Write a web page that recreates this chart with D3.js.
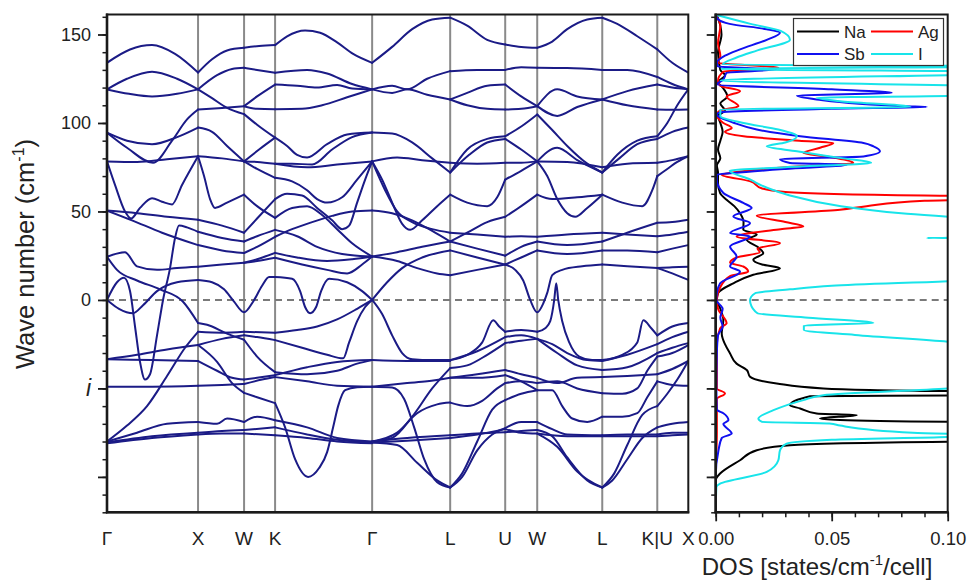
<!DOCTYPE html>
<html>
<head>
<meta charset="utf-8">
<script src="https://cdn.jsdelivr.net/npm/d3@7"></script>
<style>
  html, body { margin: 0; padding: 0; background: #fff; }
  svg { display: block; font-family: "Liberation Sans", Arial, sans-serif; }
</style>
</head>
<body>
<svg id="chart" width="970" height="580"></svg>
<script>
// ---- high-symmetry path ----
const kLabels = ["Γ", "X", "W", "K", "Γ", "L", "U", "W", "L", "K|U", "X"];
const kTicks  = [0, 0.91, 1.37, 1.68, 2.65, 3.43, 3.98, 4.30, 4.95, 5.50, 5.81];

// ---- frequency axis ----
const freqMajor = [150, 100, 50, 0, -50, -100];
const freqMajorText = ["150", "100", "50", "0", "i", ""];
const freqMinor = d3.range(-120, 161, 10);

// ---- DOS axis ----
const dosMajor = [0, 0.05, 0.10];
const dosMajorText = ["0.00", "0.05", "0.10"];
const dosMinor = d3.range(0, 0.1001, 0.01);

// ---- phonon branches, [k, frequency (cm^-1)], one array per path segment ----
const segGX = [
  [[0,134],[0.23,141.5],[0.45,144],[0.68,139],[0.91,128.5]],
  [[0,119],[0.2,125],[0.45,129],[0.7,125],[0.91,119]],
  [[0,119],[0.22,116.5],[0.45,115],[0.7,116.5],[0.91,119]],
  [[0,94.5],[0.2,90],[0.45,88],[0.7,92],[0.91,97.4]],
  [[0,94.5],[0.2,86],[0.46,77.5],[0.65,90],[0.8,102],[0.91,107.6]],
  [[0,78.3],[0.3,78],[0.6,79.5],[0.91,81.2]],
  [[0,78.3],[0.08,65],[0.18,50],[0.24,46],[0.33,52],[0.45,57.5],[0.55,55.5],[0.65,54],[0.75,65],[0.91,81.2]],
  [[0,50.5],[0.3,49],[0.6,47],[0.91,45.3]],
  [[0,50.5],[0.25,45],[0.55,38],[0.91,31]],
  [[0,24.4],[0.18,27],[0.3,19],[0.5,17],[0.7,18],[0.91,18.7]],
  [[0,24.4],[0.1,17],[0.3,11],[0.53,6],[0.76,-1],[0.91,-13]],
  [[0,0],[0.1,10],[0.17,12.5],[0.23,5],[0.28,-15],[0.33,-35],[0.38,-45],[0.43,-42],[0.5,-20],[0.56,0],[0.63,18],[0.68,35],[0.72,42],[0.8,41],[0.91,38.5]],
  [[0,0],[0.12,-5],[0.26,-7.5],[0.36,-3],[0.5,5],[0.7,10],[0.91,11.3]],
  [[0,-33.5],[0.3,-31],[0.6,-28],[0.91,-25.5]],
  [[0,-33.5],[0.45,-34],[0.91,-34.5]],
  [[0,-49],[0.45,-49],[0.91,-48.5]],
  [[0,-80],[0.2,-71],[0.4,-60],[0.6,-43],[0.78,-27],[0.91,-18]],
  [[0,-80],[0.3,-75],[0.6,-70],[0.91,-69]],
  [[0,-80.5],[0.45,-77],[0.91,-75]],
  [[0,-81],[0.45,-78],[0.91,-76]]
];

const segXW = [
  [[0.91,128.5],[1.05,136],[1.2,141],[1.37,142.5]],
  [[0.91,119],[1.1,127],[1.25,130.5],[1.37,131.2]],
  [[0.91,119],[1.05,114],[1.2,108.5],[1.37,105]],
  [[0.91,107.6],[1.15,108.5],[1.37,109.5]],
  [[0.91,97.4],[1.05,95],[1.2,87],[1.37,78.3]],
  [[0.91,81.2],[1.15,80],[1.37,78.3]],
  [[0.91,81.2],[0.97,70],[1.03,57],[1.08,52],[1.2,55],[1.37,59.5]],
  [[0.91,45.3],[1.15,42],[1.37,38]],
  [[0.91,38.5],[1.15,35],[1.37,33]],
  [[0.91,31],[1.15,28],[1.37,26.5]],
  [[0.91,18.7],[1.15,20],[1.37,21]],
  [[0.91,11.3],[1.05,10],[1.17,6],[1.27,-1],[1.37,-7],[1.46,-1],[1.55,8],[1.62,13],[1.68,13]],
  [[0.91,-13],[1.0,-14],[1.2,-19],[1.37,-22.5]],
  [[0.91,-18],[1.15,-18.5],[1.37,-18]],
  [[0.91,-25.5],[1.15,-22],[1.37,-20]],
  [[0.91,-25.5],[1.1,-35],[1.25,-47],[1.37,-52.5]],
  [[0.91,-34.5],[1.1,-40],[1.25,-44],[1.37,-45]],
  [[0.91,-48.5],[1.15,-48],[1.37,-47.5]],
  [[0.91,-69],[1.1,-70],[1.2,-67],[1.37,-69]],
  [[0.91,-75],[1.15,-74],[1.37,-73.5]],
  [[0.91,-76],[1.15,-75.5],[1.37,-75.5]]
];

const segWK = [
  [[1.37,142.5],[1.52,143.5],[1.68,144]],
  [[1.37,131.2],[1.5,130],[1.68,128.4]],
  [[1.37,109.5],[1.5,115],[1.68,121.7]],
  [[1.37,105],[1.5,99],[1.68,91.7]],
  [[1.37,109.5],[1.5,108],[1.68,107.8]],
  [[1.37,78.3],[1.5,78],[1.68,77]],
  [[1.37,78.3],[1.52,85],[1.68,91.7]],
  [[1.37,78.3],[1.5,74],[1.68,69]],
  [[1.37,59.5],[1.5,53],[1.68,46.4]],
  [[1.37,38],[1.5,46],[1.68,57]],
  [[1.37,33],[1.5,36],[1.68,39.6]],
  [[1.37,26.5],[1.5,30],[1.68,35.7]],
  [[1.37,21],[1.5,23],[1.68,26.6]],
  [[1.37,21],[1.5,22],[1.68,23.8]],
  [[1.37,-18],[1.68,-18.5]],
  [[1.37,-20],[1.5,-21],[1.68,-22.7]],
  [[1.37,-22.5],[1.5,-32],[1.68,-40.8]],
  [[1.37,-45],[1.5,-44],[1.68,-42.5]],
  [[1.37,-47.5],[1.55,-45],[1.68,-43.6]],
  [[1.37,-52.5],[1.5,-55],[1.68,-58.3]],
  [[1.37,-69],[1.5,-66],[1.68,-68]],
  [[1.37,-73.5],[1.68,-72]],
  [[1.37,-75.5],[1.68,-76.5]]
];

const segKG = [
  [[1.68,144],[1.8,149],[1.98,152.3],[2.13,151],[2.3,145.5],[2.46,139],[2.65,134]],
  [[1.68,128.4],[2.0,130],[2.2,128],[2.45,122],[2.65,119]],
  [[1.68,121.7],[1.9,121],[2.1,120],[2.3,121.5],[2.45,119.5],[2.65,119]],
  [[1.68,107.8],[1.95,108],[2.15,110],[2.4,114.5],[2.65,119]],
  [[1.68,91.7],[1.8,87],[1.9,82],[2.0,80.5],[2.2,88],[2.4,93.5],[2.65,94.6]],
  [[1.68,77],[1.85,77],[2.05,76.5],[2.25,85],[2.45,92],[2.65,94.6]],
  [[1.68,77],[2.0,75],[2.3,76.5],[2.65,78.3]],
  [[1.68,69],[1.85,67],[2.0,62],[2.1,57],[2.2,55],[2.35,58],[2.5,68],[2.65,78.3]],
  [[1.68,57],[1.8,60],[1.95,59],[2.1,52],[2.25,45],[2.35,40],[2.42,42],[2.5,55],[2.58,68],[2.65,78.3]],
  [[1.68,35.7],[1.85,40],[2.05,44],[2.25,47.5],[2.45,50],[2.65,50.6]],
  [[1.68,46.4],[1.85,52],[2.0,53],[2.15,48],[2.3,40],[2.45,32],[2.65,24.5]],
  [[1.68,39.6],[1.9,36],[2.1,30],[2.35,26],[2.65,24.5]],
  [[1.68,26.6],[1.9,24],[2.2,22],[2.45,23],[2.65,24.5]],
  [[1.68,23.8],[1.95,20],[2.2,17],[2.4,15],[2.55,20],[2.65,24.5]],
  [[1.68,13],[1.85,12],[1.93,5],[1.98,-4],[2.03,-7.5],[2.09,-4],[2.14,5],[2.22,12],[2.4,10],[2.55,5],[2.65,0]],
  [[1.68,-18.5],[1.9,-17],[2.1,-15],[2.3,-11],[2.5,-5],[2.65,0]],
  [[1.68,-22.7],[1.95,-27],[2.2,-31],[2.36,-33],[2.42,-24],[2.5,-12],[2.58,-4],[2.65,0]],
  [[1.68,-40.8],[2.0,-42],[2.3,-40],[2.5,-36],[2.65,-34]],
  [[1.68,-42.5],[2.0,-38],[2.3,-35],[2.65,-34]],
  [[1.68,-43.6],[2.0,-46],[2.3,-48.5],[2.65,-49]],
  [[1.68,-58.3],[1.78,-72],[1.88,-90],[2.01,-100],[2.12,-95],[2.2,-86],[2.26,-72],[2.31,-60],[2.38,-51],[2.5,-49.3],[2.65,-49]],
  [[1.68,-68],[2.0,-72],[2.3,-78],[2.65,-80]],
  [[1.68,-72],[2.0,-76],[2.3,-79],[2.65,-80.5]],
  [[1.68,-76.5],[2.0,-78],[2.3,-80],[2.65,-81]]
];

const segGL = [
  [[2.65,134],[2.85,143],[3.05,153],[3.25,158.5],[3.43,159.5]],
  [[2.65,119],[2.85,121],[3.0,119],[3.2,125],[3.43,129.3]],
  [[2.65,119],[2.85,117],[3.0,119],[3.2,116],[3.43,113.3]],
  [[2.65,94.6],[2.85,94],[3.05,89],[3.25,80],[3.43,72]],
  [[2.65,78.3],[2.9,80.5],[3.15,79],[3.43,77.5]],
  [[2.65,78.3],[2.75,68],[2.85,55],[2.95,43],[3.03,39.6],[3.15,45],[3.3,53],[3.43,59.5]],
  [[2.65,78.3],[2.78,62],[2.9,50],[3.05,44],[3.25,40],[3.43,38]],
  [[2.65,50.6],[2.85,49],[3.05,45],[3.25,39],[3.43,33]],
  [[2.65,24.5],[2.9,27],[3.15,30],[3.43,33]],
  [[2.65,24.5],[2.9,22],[3.1,18],[3.3,15],[3.43,14]],
  [[2.65,0],[2.8,10],[2.95,18],[3.15,24],[3.43,28]],
  [[2.65,0],[2.75,-8],[2.85,-20],[2.95,-30],[3.05,-33.5],[3.25,-34],[3.43,-34]],
  [[2.65,-34],[3.0,-34.5],[3.43,-34.5]],
  [[2.65,-49],[2.85,-49.5],[2.97,-56],[3.07,-72],[3.17,-90],[3.3,-103],[3.43,-106]],
  [[2.65,-49],[3.0,-47],[3.2,-46],[3.43,-44]],
  [[2.65,-80],[2.85,-78],[3.05,-66],[3.25,-50],[3.43,-38.5]],
  [[2.65,-80],[2.9,-75],[3.1,-64],[3.3,-59],[3.43,-58]],
  [[2.65,-80],[3.0,-78],[3.43,-76.5]],
  [[2.65,-80.5],[3.0,-79.5],[3.43,-78]],
  [[2.65,-80.5],[2.9,-82],[3.1,-92],[3.3,-102],[3.43,-106]]
];

const segLU = [
  [[3.43,159.5],[3.6,155],[3.8,147],[3.98,144.4]],
  [[3.43,129.3],[3.7,130],[3.98,130]],
  [[3.43,113.3],[3.6,117],[3.8,121],[3.98,121.7]],
  [[3.43,113.3],[3.6,110],[3.8,108],[3.98,107.6]],
  [[3.43,72],[3.6,85],[3.8,91],[3.98,92.5]],
  [[3.43,72],[3.62,82],[3.8,89],[3.98,91]],
  [[3.43,77.5],[3.7,77],[3.98,77.5]],
  [[3.43,59.5],[3.6,55],[3.8,53],[3.9,58],[3.98,68]],
  [[3.43,38],[3.7,37],[3.98,35.7]],
  [[3.43,33],[3.6,38],[3.8,44],[3.98,47]],
  [[3.43,33],[3.7,29],[3.98,25]],
  [[3.43,28],[3.7,24],[3.98,20]],
  [[3.43,14],[3.7,17],[3.98,20]],
  [[3.43,-34],[3.6,-31],[3.75,-24],[3.86,-11.5],[3.92,-15],[3.98,-18]],
  [[3.43,-34],[3.7,-29],[3.98,-21]],
  [[3.43,-38.5],[3.6,-37],[3.8,-31],[3.98,-24.4]],
  [[3.43,-44],[3.7,-42],[3.98,-39.6]],
  [[3.43,-44],[3.7,-44],[3.98,-42.5]],
  [[3.43,-58],[3.6,-60],[3.75,-57],[3.9,-50],[3.98,-47]],
  [[3.43,-76.5],[3.7,-75.5],[3.98,-74.8]],
  [[3.43,-78],[3.7,-76],[3.98,-73]],
  [[3.43,-106],[3.55,-100],[3.7,-85],[3.85,-76],[3.98,-72.5]],
  [[3.43,-106],[3.55,-98],[3.7,-80],[3.85,-62],[3.98,-56.6]]
];

const segUW = [
  [[3.98,144.4],[4.14,143],[4.3,142.5]],
  [[3.98,130],[4.14,131.5],[4.3,131.2]],
  [[3.98,121.7],[4.14,115],[4.3,109.5]],
  [[3.98,107.6],[4.14,108],[4.3,109.5]],
  [[3.98,92.5],[4.14,98],[4.3,104.8]],
  [[3.98,91],[4.14,85],[4.3,78.3]],
  [[3.98,77.5],[4.14,77.5],[4.3,78.3]],
  [[3.98,68],[4.14,73],[4.3,78.3]],
  [[3.98,47],[4.14,53],[4.3,59.5]],
  [[3.98,35.7],[4.14,36],[4.3,35.7]],
  [[3.98,25],[4.14,30],[4.3,33]],
  [[3.98,20],[4.14,24],[4.3,28]],
  [[3.98,20],[4.08,17],[4.16,11],[4.23,0],[4.3,-7],[4.36,-2],[4.4,4],[4.45,14],[4.55,17],[4.75,19],[4.95,20]],
  [[3.98,-18],[4.14,-17],[4.3,-18]],
  [[3.98,-21],[4.14,-20],[4.3,-22]],
  [[3.98,-24.4],[4.14,-23],[4.3,-22]],
  [[3.98,-39.6],[4.14,-42],[4.3,-44]],
  [[3.98,-42.5],[4.14,-46],[4.3,-51]],
  [[3.98,-47],[4.14,-46],[4.3,-47]],
  [[3.98,-56.6],[4.14,-53],[4.3,-51]],
  [[3.98,-72.5],[4.14,-69],[4.3,-69]],
  [[3.98,-74.8],[4.14,-74],[4.3,-73.5]],
  [[3.98,-73],[4.14,-75],[4.3,-75.5]]
];

const segWL = [
  [[4.3,142.5],[4.45,146],[4.6,153],[4.8,158.5],[4.95,159.5]],
  [[4.3,131.2],[4.6,131],[4.95,130]],
  [[4.3,109.5],[4.5,119],[4.7,115],[4.95,113.3]],
  [[4.3,109.5],[4.5,104],[4.7,109],[4.95,113.3]],
  [[4.3,104.8],[4.45,96],[4.6,87],[4.8,77],[4.95,72]],
  [[4.3,78.3],[4.5,86],[4.7,79],[4.95,72]],
  [[4.3,78.3],[4.6,78],[4.95,75]],
  [[4.3,78.3],[4.4,70],[4.5,57],[4.6,49],[4.68,47],[4.8,52],[4.95,59.5]],
  [[4.3,59.5],[4.45,57],[4.7,58],[4.95,59.5]],
  [[4.3,35.7],[4.6,37],[4.95,38]],
  [[4.3,33],[4.6,31],[4.95,33]],
  [[4.3,28],[4.6,26],[4.95,28]],
  [[4.3,-18],[4.38,-16],[4.43,-12],[4.47,0],[4.49,9.5],[4.51,0],[4.55,-12],[4.62,-24],[4.72,-32],[4.85,-34],[4.95,-34]],
  [[4.3,-22],[4.45,-25],[4.6,-30],[4.8,-34],[4.95,-34.5]],
  [[4.3,-22],[4.5,-30],[4.7,-37],[4.95,-39.6]],
  [[4.3,-44],[4.5,-47],[4.7,-44],[4.95,-43.6]],
  [[4.3,-51],[4.45,-51],[4.55,-60],[4.65,-67],[4.8,-69],[4.95,-66]],
  [[4.3,-47],[4.5,-46],[4.7,-50],[4.95,-52.7]],
  [[4.3,-69],[4.45,-73],[4.6,-76],[4.95,-76.5]],
  [[4.3,-73.5],[4.45,-77],[4.6,-89],[4.8,-102],[4.95,-106]],
  [[4.3,-75.5],[4.5,-83],[4.7,-97],[4.95,-106]],
  [[4.3,-75.5],[4.6,-77],[4.95,-77]]
];

const segLK = [
  [[4.95,159.5],[5.1,156],[5.3,149],[5.5,141.6]],
  [[4.95,130],[5.2,130],[5.5,126]],
  [[4.95,113.3],[5.2,118],[5.5,121.7]],
  [[4.95,113.3],[5.2,110],[5.5,107.6]],
  [[4.95,72],[5.1,82],[5.3,90],[5.5,92.5]],
  [[4.95,72],[5.12,80],[5.3,88],[5.5,91]],
  [[4.95,75],[5.2,77],[5.5,77.5]],
  [[4.95,59.5],[5.15,55],[5.35,53],[5.45,62],[5.5,70]],
  [[4.95,38],[5.2,37],[5.5,36]],
  [[4.95,33],[5.2,38],[5.5,43.6]],
  [[4.95,28],[5.2,28],[5.5,27]],
  [[4.95,20],[5.2,19],[5.5,18]],
  [[4.95,-34],[5.15,-31],[5.3,-24],[5.36,-11.5],[5.44,-16],[5.5,-20]],
  [[4.95,-34.5],[5.2,-31],[5.5,-25]],
  [[4.95,-39.6],[5.2,-38],[5.5,-30]],
  [[4.95,-43.6],[5.2,-43],[5.5,-42]],
  [[4.95,-52.7],[5.15,-53],[5.3,-50],[5.4,-40],[5.5,-32]],
  [[4.95,-66],[5.15,-66],[5.3,-64],[5.4,-55],[5.5,-46]],
  [[4.95,-76.5],[5.2,-76],[5.5,-76]],
  [[4.95,-77],[5.2,-77],[5.5,-77]],
  [[4.95,-106],[5.05,-102],[5.2,-90],[5.35,-78],[5.5,-72]],
  [[4.95,-106],[5.07,-98],[5.2,-82],[5.35,-65],[5.5,-60]]
];

const segKX = [
  [[5.5,141.6],[5.65,134],[5.81,128.5]],
  [[5.5,126],[5.65,122],[5.81,119]],
  [[5.5,121.7],[5.65,120],[5.81,119]],
  [[5.5,107.6],[5.65,107.5],[5.81,107.6]],
  [[5.5,92.5],[5.6,100],[5.7,110],[5.81,119]],
  [[5.5,91],[5.65,95],[5.81,97.4]],
  [[5.5,77.5],[5.65,79],[5.81,81.2]],
  [[5.5,70],[5.6,74],[5.7,78],[5.81,81.2]],
  [[5.5,43.6],[5.65,44],[5.81,45.3]],
  [[5.5,36],[5.65,37],[5.81,38.5]],
  [[5.5,27],[5.65,29],[5.81,31]],
  [[5.5,18],[5.65,18.5],[5.81,18.7]],
  [[5.5,18],[5.65,15],[5.81,11.3]],
  [[5.5,-20],[5.65,-15],[5.81,-13]],
  [[5.5,-25],[5.65,-21],[5.81,-18]],
  [[5.5,-30],[5.65,-27],[5.81,-24.4]],
  [[5.5,-32],[5.65,-30],[5.81,-25.5]],
  [[5.5,-42],[5.65,-39],[5.81,-34.5]],
  [[5.5,-46],[5.65,-48],[5.81,-48.5]],
  [[5.5,-60],[5.6,-53],[5.7,-45],[5.81,-34.5]],
  [[5.5,-72],[5.65,-70],[5.81,-69]],
  [[5.5,-76],[5.65,-75],[5.81,-75]],
  [[5.5,-77],[5.65,-76.5],[5.81,-76]]
];

// ---- projected DOS, [frequency (cm^-1), states/cm^-1/cell] ----
const dosNa = [
  [161,0.0005],[155,0.002],[150,0.0025],[140,0.001],[130,0.002],[127,0.004],[123,0.001],[120,0.003],
  [115,0.005],[111,0.002],[107,0.004],[104,0.001],[100,0.002],[95,0.003],[90,0.002],[85,0.001],
  [80,0.002],[76,0.0005],[72,0.001],[66,0.001],[60.4,0.0019],[56.6,0.0047],[53,0.008],[49,0.0105],
  [44,0.012],[39.6,0.0119],[37,0.0177],[34,0.0134],[30,0.018],[26.4,0.0205],[22.7,0.0162],[20,0.02],
  [17.9,0.0277],[14.2,0.0162],[9.4,0.0076],[3.8,0.001],[0,0.0005],[-5,0.002],[-11.3,0.0033],
  [-18.9,0.0026],[-25,0.004],[-30.2,0.0062],[-36,0.009],[-39.6,0.0134],[-43.4,0.0148],[-47.2,0.0263],
  [-50,0.0464],[-51.5,0.1],[-52,0.14],[-53.5,0.14],[-54,0.1],[-54.4,0.0407],[-59.5,0.032],
  [-61.3,0.0364],[-64.2,0.0435],[-65.1,0.0608],[-67,0.045],[-67.9,0.0536],[-68.9,0.1],[-69.3,0.14],
  [-79.8,0.14],[-80.2,0.1],[-82.1,0.032],[-84.9,0.0177],[-90.6,0.0105],[-98.1,0.0019],[-101.9,0],[-120,0]
];
const dosAg = [
  [161,0],[155,0.002],[145,0.001],[138,0.002],[134,0.001],[131.2,0.027],[129,0.0033],[124,0.001],
  [121,0.002],[118,0.0105],[115,0.0047],[109.5,0.0098],[107,0.0019],[105,0.0005],[100,0.0033],
  [97.2,0.0069],[95,0.004],[92.5,0.012],[90,0.036],[88.7,0.0507],[86,0.045],[83,0.0378],[81,0.048],
  [77.4,0.0593],[75,0.03],[71.7,0.006],[70.8,0.0025],[67,0.015],[63,0.02],[61,0.03],[59,0.09],
  [58.5,0.14],[57.5,0.14],[56,0.09],[53,0.065],[51,0.0536],[47.6,0.0177],[44,0.03],[41.5,0.0378],
  [40,0.028],[35.8,0.009],[32.1,0.0277],[29,0.018],[27,0.019],[24,0.009],[21,0.0062],[18.9,0.0119],
  [16,0.014],[13.5,0.0062],[7,0.0019],[0,0.0005],[-5,0.001],[-13.2,0.0047],[-16,0.0019],[-25,0.0005],
  [-50,0.0005],[-52.8,0.004],[-56,0.0005],[-75,0.0005],[-100,0],[-120,0]
];
const dosSb = [
  [161,0],[158.6,0.001],[156,0.006],[153,0.022],[151,0.0277],[147,0.022],[141.6,0.0105],[138,0.004],
  [134,0.0005],[132,0.001],[130.2,0.026],[128.4,0.0047],[124.6,0.0033],[121.7,0.0005],[119,0.05],
  [117,0.0759],[115.5,0.035],[113.3,0.0435],[109.5,0.082],[109.1,0.091],[108,0.05],[106.1,0.0019],
  [104.8,0.0005],[100,0.008],[96.3,0.0177],[92.5,0.0364],[88.7,0.0637],[86.8,0.068],[84,0.0708],
  [81.1,0.0637],[79.6,0.0277],[77.4,0.032],[76.4,0.0565],[74,0.03],[71.7,0.0076],[70.8,0.0005],
  [68,0.0005],[60.4,0.0033],[54.8,0.0119],[51.9,0.0155],[47.2,0.0076],[43.4,0.0148],[37.8,0.0062],
  [35.8,0.0148],[30.2,0.0062],[24.5,0.009],[18.9,0.0062],[16,0.0105],[9.4,0.0019],[3.8,0.0005],
  [0,0.0003],[-5,0.003],[-10,0.002],[-15,0.003],[-20,0.001],[-30,0.0005],[-50,0.0003],[-62,0.0005],
  [-64,0.0033],[-68,0.0055],[-70,0.0033],[-75.5,0.0069],[-78,0.0026],[-85,0.0012],[-100,0],[-120,0]
];
const dosI = [
  [161,0.0004],[156,0.015],[152,0.028],[147,0.032],[141,0.018],[137,0.009],[133,0.003],[132,0.14],
  [130.6,0.002],[128.7,0.14],[124,0.002],[119.9,0.14],[116,0.14],[114.2,0.0435],[112.3,0.0536],
  [109.1,0.084],[107.6,0.002],[104,0.002],[100,0.012],[96.3,0.027],[92.5,0.035],[89,0.03],
  [86.8,0.022],[84,0.035],[80,0.055],[77.5,0.067],[75,0.03],[73,0.006],[68,0.015],[65.8,0.018],
  [62,0.025],[59,0.032],[53,0.054],[49,0.08],[46,0.11],[40,0.14],[36,0.15],[35,0.091],[34.6,0.15],
  [20,0.15],[11.3,0.11],[8,0.05],[6,0.032],[3.8,0.017],[0,0.0148],[-2,0.015],[-7.5,0.018],[-10,0.04],
  [-13,0.068],[-14.5,0.038],[-17,0.038],[-19.8,0.06],[-23.6,0.1],[-30,0.14],[-45,0.14],[-50,0.1],
  [-53.8,0.0464],[-56.6,0.0378],[-62.3,0.0249],[-67,0.0184],[-68.9,0.02],[-69.8,0.049],[-71,0.0536],
  [-75,0.085],[-76.4,0.12],[-77.4,0.1],[-79,0.05],[-81.2,0.0306],[-85,0.0277],[-90.6,0.027],
  [-97.2,0.022],[-103.8,0.0019],[-105.7,0.0003],[-120,0]
];

const dosSeries = [
  { name: "Na", data: dosNa, color: "#000000" },
  { name: "Ag", data: dosAg, color: "#ff0000" },
  { name: "Sb", data: dosSb, color: "#1010f0" },
  { name: "I",  data: dosI,  color: "#18e4ea" }
];

// ---- layout ----
const svg = d3.select("#chart");
const plotTop = 14.5, plotBottom = 512.3;
const bandLeft = 107, bandRight = 688.3;
const dosLeft = 715.7, dosRight = 947.7;
const axisColor = "#1a1a1a";
const font = '"Liberation Sans", Arial, sans-serif';

const x  = d3.scaleLinear().domain([kTicks[0], kTicks[kTicks.length - 1]]).range([bandLeft, bandRight]);
const y  = d3.scaleLinear().domain([-120, 161.3]).range([plotBottom, plotTop]);
const xd = d3.scaleLinear().domain([0, 0.1]).range([dosLeft, dosRight]);

const defs = svg.append("defs");
defs.append("clipPath").attr("id", "clipBands").append("rect")
  .attr("x", bandLeft).attr("y", plotTop).attr("width", bandRight - bandLeft).attr("height", plotBottom - plotTop);
defs.append("clipPath").attr("id", "clipDos").append("rect")
  .attr("x", dosLeft).attr("y", plotTop).attr("width", dosRight - dosLeft).attr("height", plotBottom - plotTop);

// ---- band panel ----
const bandG = svg.append("g").attr("clip-path", "url(#clipBands)");

// high-symmetry verticals
bandG.selectAll("line.kline").data(kTicks.slice(1, -1)).join("line")
  .attr("class", "kline")
  .attr("x1", d => x(d)).attr("x2", d => x(d))
  .attr("y1", plotTop).attr("y2", plotBottom)
  .attr("stroke", "#8a8a8a").attr("stroke-width", 2);

// zero-frequency reference
bandG.append("line")
  .attr("x1", bandLeft).attr("x2", bandRight).attr("y1", y(0)).attr("y2", y(0))
  .attr("stroke", "#7a7a7a").attr("stroke-width", 2).attr("stroke-dasharray", "7,5");

const branches = [].concat(segGX, segXW, segWK, segKG, segGL, segLU, segUW, segWL, segLK, segKX);
const bandLine = d3.line().x(d => x(d[0])).y(d => y(d[1])).curve(d3.curveMonotoneX);
bandG.selectAll("path.branch").data(branches).join("path")
  .attr("class", "branch")
  .attr("d", bandLine)
  .attr("fill", "none")
  .attr("stroke", "#1b1b86")
  .attr("stroke-width", 2)
  .attr("stroke-linejoin", "round")
  .attr("stroke-linecap", "round");

// frame
svg.append("rect")
  .attr("x", bandLeft).attr("y", plotTop).attr("width", bandRight - bandLeft).attr("height", plotBottom - plotTop)
  .attr("fill", "none").attr("stroke", axisColor).attr("stroke-width", 2);

function styleAxis(g, width) {
  g.select(".domain").remove();
  g.selectAll(".tick line").attr("stroke", axisColor).attr("stroke-width", width);
}

// frequency axis: minor then major ticks
svg.append("g").attr("transform", `translate(${bandLeft},0)`)
  .call(d3.axisLeft(y).tickValues(freqMinor).tickSize(4.5).tickFormat(""))
  .call(g => styleAxis(g, 1.5));
const yAxisG = svg.append("g").attr("transform", `translate(${bandLeft},0)`)
  .call(d3.axisLeft(y).tickValues(freqMajor).tickSize(9).tickPadding(7)
        .tickFormat((d, i) => freqMajorText[i]))
  .call(g => styleAxis(g, 1.8));
yAxisG.selectAll(".tick text")
  .attr("font-family", font).attr("fill", "#222")
  .attr("font-size", (d, i) => freqMajorText[i] === "i" ? 23 : 18)
  .attr("font-style", (d, i) => freqMajorText[i] === "i" ? "italic" : "normal");

// thick left and bottom spines
svg.append("line").attr("x1", bandLeft).attr("x2", bandLeft).attr("y1", plotTop - 1).attr("y2", plotBottom + 1)
  .attr("stroke", axisColor).attr("stroke-width", 2.6);
svg.append("line").attr("x1", bandLeft - 1).attr("x2", bandRight + 1).attr("y1", plotBottom).attr("y2", plotBottom)
  .attr("stroke", axisColor).attr("stroke-width", 2.6);

// k-point labels
svg.selectAll("text.klabel").data(kTicks).join("text")
  .attr("class", "klabel")
  .attr("x", d => x(d)).attr("y", 545)
  .attr("text-anchor", "middle")
  .attr("font-family", font).attr("font-size", 19).attr("fill", "#222")
  .text((d, i) => kLabels[i]);

// frequency axis title
const yTitle = svg.append("text")
  .attr("transform", "translate(34,254) rotate(-90)")
  .attr("text-anchor", "middle")
  .attr("font-family", font).attr("font-size", 25.5).attr("fill", "#222");
yTitle.append("tspan").text("Wave number (cm");
yTitle.append("tspan").attr("font-size", 16).attr("dy", -10).text("-1");
yTitle.append("tspan").attr("dy", 10).text(")");

// ---- DOS panel ----
const dosG = svg.append("g").attr("clip-path", "url(#clipDos)");
dosG.append("line")
  .attr("x1", dosLeft).attr("x2", dosRight).attr("y1", y(0)).attr("y2", y(0))
  .attr("stroke", "#7a7a7a").attr("stroke-width", 2).attr("stroke-dasharray", "7,5");

const dosLine = d3.line().x(d => xd(d[1])).y(d => y(d[0])).curve(d3.curveMonotoneY);
dosG.selectAll("path.dos").data(dosSeries).join("path")
  .attr("class", "dos")
  .attr("d", d => dosLine(d.data))
  .attr("fill", "none")
  .attr("stroke", d => d.color)
  .attr("stroke-width", 2)
  .attr("stroke-linejoin", "round");

svg.append("rect")
  .attr("x", dosLeft).attr("y", plotTop).attr("width", dosRight - dosLeft).attr("height", plotBottom - plotTop)
  .attr("fill", "none").attr("stroke", axisColor).attr("stroke-width", 2);

svg.append("g").attr("transform", `translate(${dosLeft},0)`)
  .call(d3.axisLeft(y).tickValues(freqMinor).tickSize(4.5).tickFormat(""))
  .call(g => styleAxis(g, 1.5));
svg.append("g").attr("transform", `translate(${dosLeft},0)`)
  .call(d3.axisLeft(y).tickValues(freqMajor).tickSize(9).tickFormat(""))
  .call(g => styleAxis(g, 1.8));

svg.append("g").attr("transform", `translate(0,${plotBottom})`)
  .call(d3.axisBottom(xd).tickValues(dosMinor).tickSize(5).tickFormat(""))
  .call(g => styleAxis(g, 1.5));
const xdAxisG = svg.append("g").attr("transform", `translate(0,${plotBottom})`)
  .call(d3.axisBottom(xd).tickValues(dosMajor).tickSize(9).tickFormat((d, i) => dosMajorText[i]))
  .call(g => styleAxis(g, 1.8));
xdAxisG.selectAll(".tick text")
  .attr("y", 545 - plotBottom).attr("dy", 0)
  .attr("font-family", font).attr("font-size", 18.5).attr("fill", "#222");

svg.append("line").attr("x1", dosLeft).attr("x2", dosLeft).attr("y1", plotTop - 1).attr("y2", plotBottom + 1)
  .attr("stroke", axisColor).attr("stroke-width", 2.6);
svg.append("line").attr("x1", dosLeft - 1).attr("x2", dosRight + 1).attr("y1", plotBottom).attr("y2", plotBottom)
  .attr("stroke", axisColor).attr("stroke-width", 2.6);

const xTitle = svg.append("text")
  .attr("x", 817).attr("y", 575)
  .attr("text-anchor", "middle")
  .attr("font-family", font).attr("font-size", 24).attr("fill", "#222");
xTitle.append("tspan").text("DOS [states/cm");
xTitle.append("tspan").attr("font-size", 15).attr("dy", -10).text("-1");
xTitle.append("tspan").attr("dy", 10).text("/cell]");

// ---- legend ----
const legend = svg.append("g");
legend.append("rect")
  .attr("x", 793.5).attr("y", 18.5).attr("width", 150).attr("height", 47)
  .attr("fill", "#fff").attr("stroke", "#333").attr("stroke-width", 1.2);
const legendPos = [[797, 31.5], [871, 31.5], [797, 54], [871, 54]];
dosSeries.forEach((s, i) => {
  const [lx, ly] = legendPos[i];
  legend.append("line").attr("x1", lx).attr("x2", lx + 42).attr("y1", ly).attr("y2", ly)
    .attr("stroke", s.color).attr("stroke-width", 2);
  legend.append("text").attr("x", lx + 47).attr("y", ly + 6)
    .attr("font-family", font).attr("font-size", 17).attr("fill", "#222")
    .text(s.name);
});
</script>
</body>
</html>
